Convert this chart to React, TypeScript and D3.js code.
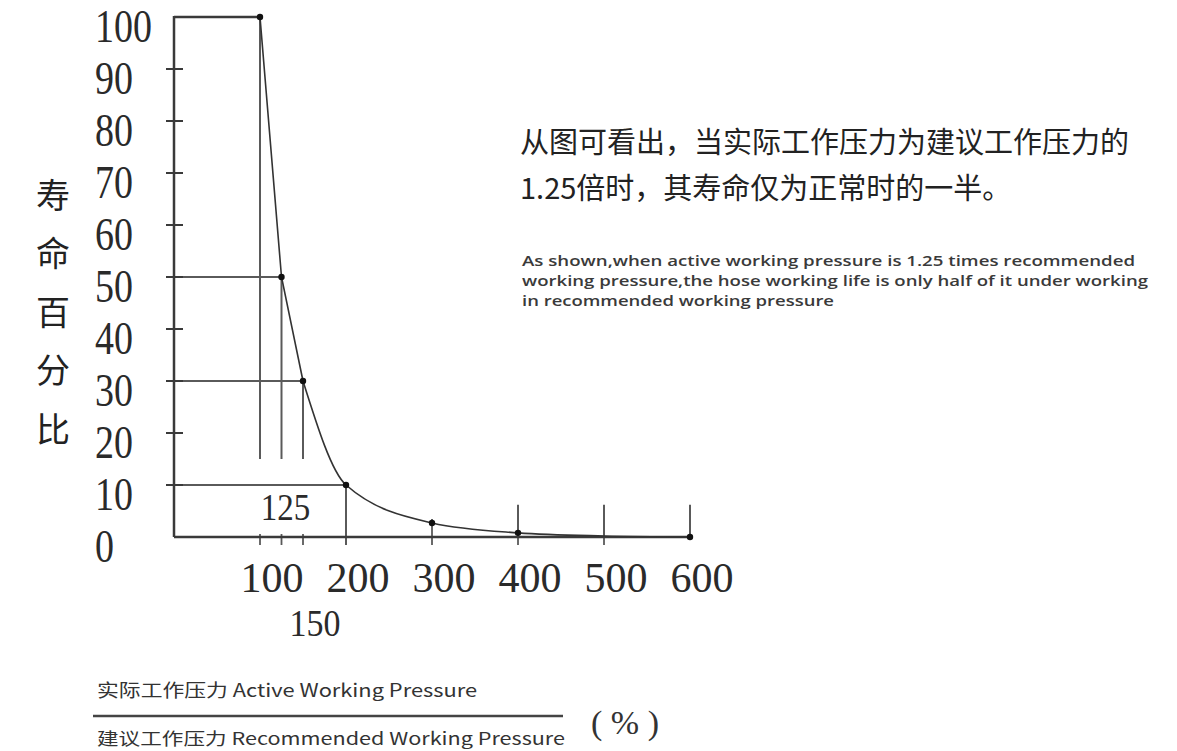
import React from "react";
import * as d3 from "d3";

const pressure = [100, 125, 150, 200, 300, 400, 500, 600];
const lifePct = [100, 50, 30, 10, 2.7, 0.8, 0.2, 0];
const dotPressure = [100, 125, 150, 200, 300, 400, 600];
const yTicks = [0, 10, 20, 30, 40, 50, 60, 70, 80, 90, 100];
const xMainTicks = [100, 200, 300, 400, 500, 600];
const xSubLabel = [150];
const innerLabel = [125];
const guideX = [100, 125, 150];
const guideLevels = [50, 30, 10];
const tallTicks = [400, 500, 600];
const smallTicks = [100, 125, 150, 200, 300, 400, 500];
const yTitle = ["寿", "命", "百", "分", "比"];
const cnNote = ["从图可看出，当实际工作压力为建议工作压力的", "1.25倍时，其寿命仅为正常时的一半。"];
const enNote = [
  "As shown,when active working pressure is 1.25 times recommended",
  "working pressure,the hose working life is only half of it under working",
  "in recommended working pressure",
];
const enNoteLen = [613, 626, 312];
const fracTop = "实际工作压力  Active Working Pressure";
const fracBottom = "建议工作压力  Recommended Working Pressure";

export default function App() {
  const x = d3.scaleLinear().domain([0, 600]).range([174, 690]);
  const y = d3.scaleLinear().domain([0, 100]).range([537, 17]);
  const pts = pressure.map((p, i) => [p, lifePct[i]] as [number, number]);
  const straight = d3
    .line<[number, number]>()
    .x((d) => x(d[0]))
    .y((d) => y(d[1]));
  const smooth = d3
    .line<[number, number]>()
    .x((d) => x(d[0]))
    .y((d) => y(d[1]))
    .curve(d3.curveMonotoneX);
  const guideBottom = 15;
  const tallTop = 6.2;
  const serif = "'Liberation Serif', 'DejaVu Serif', serif";
  const sans = "'Noto Sans CJK SC', 'Noto Sans', sans-serif";
  const axisColor = "#3a3a3a";
  const guideColor = "#5a5a5a";
  return (
    <svg
      width={1177}
      height={751}
      style={{ position: "absolute", left: 0, top: 0, background: "#fff" }}
    >
      {guideX.map((g) => (
        <line
          key={"gv" + g}
          x1={x(g)}
          x2={x(g)}
          y1={y(lifePct[pressure.indexOf(g)])}
          y2={y(guideBottom)}
          stroke={guideColor}
          strokeWidth={2}
        />
      ))}
      <line x1={x(200)} x2={x(200)} y1={y(10)} y2={y(0) + 8} stroke={guideColor} strokeWidth={2} />
      {guideLevels.map((lv) => (
        <line
          key={"gh" + lv}
          x1={x(0) - 6}
          x2={x(pressure[lifePct.indexOf(lv)])}
          y1={y(lv)}
          y2={y(lv)}
          stroke={guideColor}
          strokeWidth={2}
        />
      ))}
      <line x1={x(0)} x2={x(100)} y1={y(100)} y2={y(100)} stroke={axisColor} strokeWidth={2.5} />
      {tallTicks.map((t) => (
        <line key={"tt" + t} x1={x(t)} x2={x(t)} y1={y(tallTop)} y2={y(0)} stroke={guideColor} strokeWidth={2} />
      ))}
      {smallTicks.map((t) => (
        <line
          key={"st" + t}
          x1={x(t)}
          x2={x(t)}
          y1={t === 300 ? y(2.7) - 4 : y(0) - 3}
          y2={y(0) + 8}
          stroke={guideColor}
          strokeWidth={1.8}
        />
      ))}
      <line x1={x(0)} x2={x(0)} y1={y(100) - 1} y2={y(0)} stroke={axisColor} strokeWidth={2.5} />
      <line x1={x(0)} x2={x(600)} y1={y(0)} y2={y(0)} stroke={axisColor} strokeWidth={2.5} />
      {yTicks.filter((t) => t > 0 && t < 100).map((t) => (
        <line key={"yt" + t} x1={x(0) - 8} x2={x(0) + 9} y1={y(t)} y2={y(t)} stroke={axisColor} strokeWidth={2} />
      ))}
      <path d={straight(pts.slice(0, 3)) || ""} fill="none" stroke="#333" strokeWidth={1.6} />
      <path d={smooth(pts.slice(2)) || ""} fill="none" stroke="#333" strokeWidth={1.6} />
      {dotPressure.map((p) => (
        <circle key={"d" + p} cx={x(p)} cy={y(lifePct[pressure.indexOf(p)])} r={3.2} fill="#111" />
      ))}
      {yTicks.map((t) => (
        <text
          key={"yl" + t}
          transform={`translate(95,${y(t) + 9}) scale(0.95,1.15)`}
          dominantBaseline="central"
          fontFamily={serif}
          fontSize={40}
          fill="#2a2a2a"
        >
          {t}
        </text>
      ))}
      {xMainTicks.map((t) => (
        <text
          key={"xl" + t}
          x={x(t) + 12}
          y={y(0) + 55}
          textAnchor="middle"
          fontFamily={serif}
          fontSize={42}
          fill="#2a2a2a"
        >
          {t}
        </text>
      ))}
      {xSubLabel.map((t) => (
        <text
          key={"xs" + t}
          transform={`translate(${x(t) + 12},${y(0) + 99}) scale(1,1.12)`}
          textAnchor="middle"
          fontFamily={serif}
          fontSize={34}
          fill="#2a2a2a"
        >
          {t}
        </text>
      ))}
      {innerLabel.map((t) => (
        <text
          key={"il" + t}
          transform={`translate(${x(t) + 4},${y(3.2)}) scale(1,1.12)`}
          textAnchor="middle"
          fontFamily={serif}
          fontSize={33}
          fill="#2a2a2a"
        >
          {t}
        </text>
      ))}
      {yTitle.map((c, i) => (
        <text
          key={"yc" + i}
          x={53}
          y={193 + i * 58.5}
          textAnchor="middle"
          dominantBaseline="central"
          fontFamily={sans}
          fontSize={34}
          fill="#222"
        >
          {c}
        </text>
      ))}
      {cnNote.map((s, i) => (
        <text
          key={"cn" + i}
          x={520}
          y={140 + i * 46}
          dominantBaseline="central"
          fontFamily={sans}
          fontSize={29}
          fill="#222"
        >
          {s}
        </text>
      ))}
      {enNote.map((s, i) => (
        <text
          key={"en" + i}
          x={522}
          y={266 + i * 20}
          fontFamily={"'Open Sans', 'Noto Sans', sans-serif"}
          fontSize={15}
          fontWeight={600}
          fill="#3a3a3a"
          textLength={enNoteLen[i]}
          lengthAdjust="spacingAndGlyphs"
        >
          {s}
        </text>
      ))}
      <text x={97} y={689} dominantBaseline="central" fontFamily={sans} fontSize={18} fill="#333" textLength={380} lengthAdjust="spacingAndGlyphs">
        {fracTop}
      </text>
      <line x1={93} x2={563} y1={716} y2={716} stroke="#444" strokeWidth={2.5} />
      <text x={97} y={737} dominantBaseline="central" fontFamily={sans} fontSize={17} fill="#333" textLength={468} lengthAdjust="spacingAndGlyphs">
        {fracBottom}
      </text>
      <text x={625} y={722} textAnchor="middle" dominantBaseline="central" fontFamily={serif} fontSize={34} fill="#333">
        ( % )
      </text>
    </svg>
  );
}
